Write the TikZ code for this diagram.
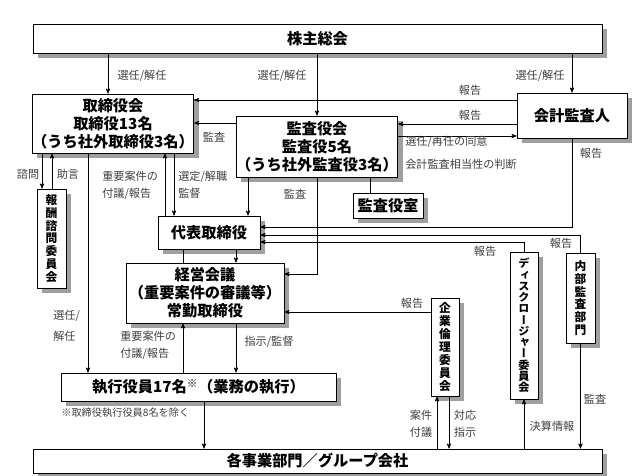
\documentclass[tikz,border=0pt]{standalone}
\usepackage{fontspec}
\setmainfont{Noto Sans CJK JP}
\newfontfamily\tatefont[RawFeature=+vert]{Noto Sans CJK JP}
\usetikzlibrary{arrows,shadows}

\begin{document}
\begin{tikzpicture}[->,>=stealth',x=0.03cm,y=-0.03cm,line width=0.6pt,
	box/.style={draw,fill=white,inner sep=0pt,align=center,
		drop shadow={shadow xshift=0.15cm,shadow yshift=-0.15cm,opacity=1,fill=gray!75},
		font=\fontsize{13}{15.5}\selectfont\bfseries},
	tate/.style={box,font=\fontsize{10}{11}\selectfont\tatefont\bfseries},
	lbl/.style={inner sep=0pt,text=black!75,font=\fontsize{9.5}{11}\selectfont}]

	\fill[white] (0,0) rectangle (634,476);
	\useasboundingbox (0,0) rectangle (634,476);

	% boxes
	\node[box,minimum width=17.07cm,minimum height=0.87cm] (kabu) at (317.5,38.5) {株主総会};
	\node[box,minimum width=4.8cm,minimum height=1.77cm] (tori) at (113,123.5) {取締役会\\取締役13名\\（うち社外取締役3名）};
	\node[box,minimum width=4.8cm,minimum height=1.83cm] (kansa) at (317,146.5) {監査役会\\監査役5名\\（うち社外監査役3名）};
	\node[box,minimum width=3.3cm,minimum height=1.35cm] (kaikei) at (572,115.5) {会計監査人};
	\node[box,minimum width=2.1cm,minimum height=0.75cm] (shitsu) at (388,205.5) {監査役室};
	\node[tate,minimum width=0.87cm,minimum height=2.97cm] (hoshu) at (51.5,238.5) {報\\酬\\諮\\問\\委\\員\\会};
	\node[box,minimum width=3.06cm,minimum height=0.99cm] (daihyo) at (209,232.5) {代表取締役};
	\node[box,minimum width=4.74cm,minimum height=1.8cm] (keiei) at (205,293) {経営会議\\（重要案件の審議等）\\常勤取締役};
	\node[box,minimum width=8.25cm,minimum height=0.84cm] (shikko) at (198.5,387) {執行役員17名\textsuperscript{※}（業務の執行）};
	\node[box,minimum width=17.07cm,minimum height=0.72cm] (jigyo) at (317.5,461) {各事業部門／グループ会社};
	\node[tate,minimum width=0.84cm,minimum height=2.94cm] (rinri) at (445,347) {企\\業\\倫\\理\\委\\員\\会};
	\node[tate,minimum width=0.84cm,minimum height=4.41cm,
		font=\fontsize{9.5}{9.6}\selectfont\tatefont\bfseries] (disc) at (524,325.5) {デ\\ィ\\ス\\ク\\ロ\\ー\\ジ\\ャ\\ー\\委\\員\\会};
	\node[tate,minimum width=0.87cm,minimum height=2.7cm] (naibu) at (580.5,298) {内\\部\\監\\査\\部\\門};

	% connectors
	\draw (kabu.south -| 108,0) -- (tori.north -| 108,0);
	\draw (kabu.south -| kansa.north) -- (kansa.north);
	\draw (kabu.south -| kaikei.north) -- (kaikei.north);
	\draw (kaikei.west |- 0,100) -- (tori.east |- 0,100);
	\draw (kaikei.west |- 0,124) -- (kansa.east |- 0,124);
	\draw (kansa.east |- 0,136) -- (kaikei.west |- 0,136);
	\draw (kansa.west |- 0,123) -- (tori.east |- 0,123);
	\draw (tori.south -| 42,0) -- (hoshu.north -| 42,0);
	\draw (hoshu.north -| 52,0) -- (tori.south -| 52,0);
	\draw (tori.south -| 88,0) -- (shikko.north -| 88,0);
	\draw (daihyo.north -| 165,0) -- (tori.south -| 165,0);
	\draw (tori.south -| 174,0) -- (daihyo.north -| 174,0);
	\draw (kansa.south -| 248,0) -- (daihyo.north -| 248,0);
	\draw[-] (kansa.south -| 370,0) -- (shitsu.north -| 370,0);
	\draw (kansa.south) -- (kansa.south |- 0,274) -- (keiei.east |- 0,274);
	\draw (kaikei.south) |- (daihyo.east |- 0,227);
	\draw (naibu.north) |- (daihyo.east |- 0,235);
	\draw (disc.north) |- (daihyo.east |- 0,242);
	\draw (rinri.west |- 0,312) -- (keiei.east |- 0,312);
	\draw (daihyo.south -| 236,0) -- (keiei.north -| 236,0);
	\draw[-] (daihyo.south -| 183,0) -- (keiei.north -| 183,0);
	\draw (keiei.south -| 236,0) -- (shikko.north -| 236,0);
	\draw (shikko.north -| 183,0) -- (keiei.south -| 183,0);
	\draw (shikko.south -| 204,0) -- (jigyo.north -| 204,0);
	\draw (jigyo.north -| 437,0) -- (rinri.south -| 437,0);
	\draw (rinri.south -| 449,0) -- (jigyo.north -| 449,0);
	\draw (jigyo.north -| disc.south) -- (disc.south);
	\draw (naibu.south) -- (jigyo.north -| naibu.south);

	% labels
	\node[lbl] (l1) at (142,76) {選任/解任};
	\node[lbl] (l2) at (282,76) {選任/解任};
	\node[lbl] (l3) at (540,76) {選任/解任};
	\node[lbl] (l4) at (470,90) {報告};
	\node[lbl] (l5) at (470,115) {報告};
	\node[lbl,anchor=west,align=left,font=\fontsize{9.5}{19.5}\selectfont] (l6) at (405,153) {選任/再任の同意\\会計監査相当性の判断};
	\node[lbl] (l7) at (214,137) {監査};
	\node[lbl] (l8) at (591,153) {報告};
	\node[lbl] (l9) at (28,174) {諮問};
	\node[lbl] (l10) at (68,174) {助言};
	\node[lbl,anchor=west,align=left,font=\fontsize{9.5}{14.5}\selectfont] (l11) at (102,185) {重要案件の\\付議/報告};
	\node[lbl,anchor=west,align=left,font=\fontsize{9.5}{14.5}\selectfont] (l12) at (178,185) {選定/解職\\監督};
	\node[lbl] (l13) at (295,194) {監査};
	\node[lbl] (l14) at (485,251) {報告};
	\node[lbl] (l15) at (561,243) {報告};
	\node[lbl] (l16) at (412,303) {報告};
	\node[lbl,anchor=west,align=left,font=\fontsize{9.5}{18}\selectfont] (l17) at (53,326) {選任/\\解任};
	\node[lbl,anchor=west,align=left,font=\fontsize{9.5}{14.5}\selectfont] (l18) at (120,345) {重要案件の\\付議/報告};
	\node[lbl] (l19) at (269,342) {指示/監督};
	\node[lbl,anchor=west,font=\fontsize{8.7}{10}\selectfont] (l20) at (61,413) {※取締役執行役員8名を除く};
	\node[lbl,align=center,font=\fontsize{9.5}{14.5}\selectfont] (l21) at (421,424) {案件\\付議};
	\node[lbl,align=center,font=\fontsize{9.5}{14.5}\selectfont] (l22) at (465,424) {対応\\指示};
	\node[lbl] (l23) at (552,426) {決算情報};
	\node[lbl] (l24) at (595,399) {監査};
\end{tikzpicture}
\end{document}
